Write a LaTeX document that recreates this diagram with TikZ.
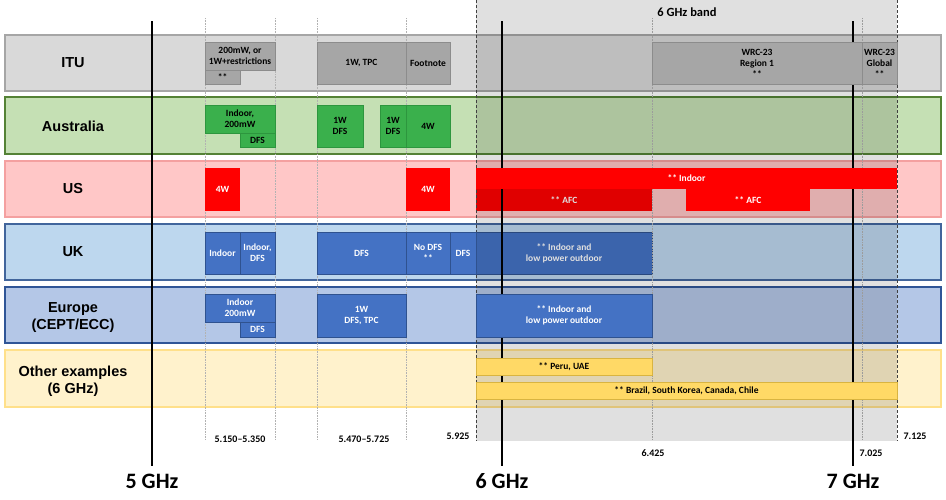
\documentclass[tikz,border=0pt]{standalone}
\usepackage{fontspec}
\setmainfont{Carlito}
\newfontfamily\arialfont{Liberation Sans}
\usetikzlibrary{fit}
\definecolor{ituR}{HTML}{D9D9D9}
\definecolor{ituRD}{HTML}{A6A6A6}
\definecolor{ituB}{HTML}{A6A6A6}
\definecolor{ituD}{HTML}{8C8C8C}
\definecolor{ausR}{HTML}{C5E0B4}
\definecolor{ausRD}{HTML}{548235}
\definecolor{grnB}{RGB}{58,176,76}
\definecolor{grnD}{RGB}{45,150,62}
\definecolor{usR}{HTML}{FFC7C7}
\definecolor{usRD}{HTML}{F4A0A0}
\definecolor{redB}{HTML}{FF0000}
\definecolor{ukR}{HTML}{BDD7EE}
\definecolor{ukRD}{HTML}{41659C}
\definecolor{euR}{HTML}{B4C7E7}
\definecolor{euRD}{HTML}{2F5597}
\definecolor{bluB}{HTML}{4472C4}
\definecolor{bluD}{HTML}{2F528F}
\definecolor{oeR}{HTML}{FFF2CC}
\definecolor{oeRD}{HTML}{FFE08A}
\definecolor{ylwB}{HTML}{FFD966}
\definecolor{ylwD}{HTML}{D9B440}
% style, name, x1, y1, x2, y2, text
\newcommand\blkbox[7]{%
  \pgfmathsetmacro\myBW{#5-#3}%
  \pgfmathsetmacro\myBH{#6-#4}%
  \node[#1, minimum width=\myBW pt, minimum height=\myBH pt, anchor=north west] (#2) at (#3,#4) {#7};}
\begin{document}
\begin{tikzpicture}[x=1pt,y=-1pt,
  rowbox/.style={inner sep=0pt, outer sep=0pt, line width=1.2pt},
  rowlab/.style={font=\arialfont\bfseries\fontsize{14.5}{17}\selectfont, align=center, text=black},
  blk/.style={inner sep=0pt, outer sep=0pt, align=center, font=\bfseries\fontsize{9.5}{11}\selectfont, line width=0.6pt},
  itub/.style={blk, fill=ituB, draw=ituD, text=black},
  grnb/.style={blk, fill=grnB, draw=grnD, text=black},
  redb/.style={blk, fill=redB, text=white},
  blub/.style={blk, fill=bluB, draw=bluD, text=white},
  ylwb/.style={blk, fill=ylwB, draw=ylwD, text=black},
  dotline/.style={draw=black!30, densely dotted, line width=0.6pt},
  bandedge/.style={draw=black!75, densely dashed, line width=0.6pt},
  ghzline/.style={draw=black, line width=1.3pt},
  ghz/.style={font=\bfseries\fontsize{22}{24}\selectfont, inner sep=0pt},
  freq/.style={font=\bfseries\fontsize{10}{12}\selectfont, inner sep=0pt},
]
\useasboundingbox (0,0) rectangle (946,499);
\fill[white] (0,0) rectangle (946,499);

% rows
\node[rowbox, fill=ituR, draw=ituRD, fit={(5,35)(941,91)}] (rITU) {};
\node[rowbox, fill=ausR, draw=ausRD, fit={(5,97)(941,154)}] (rAUS) {};
\node[rowbox, fill=usR, draw=usRD, fit={(5,161)(941,217)}] (rUS) {};
\node[rowbox, fill=ukR, draw=ukRD, fit={(5,224)(941,280)}] (rUK) {};
\node[rowbox, fill=euR, draw=euRD, fit={(5,287)(941,343)}] (rEU) {};
\node[rowbox, fill=oeR, draw=oeRD, fit={(5,350)(941,407)}] (rOE) {};

% blocks under the band shading
\blkbox{redb}{usAFC1}{476}{189}{652}{211}{** AFC}
\blkbox{blub}{ukLP}{476}{232}{652}{274}{** Indoor and\\low power outdoor}

% dotted guides
\foreach \xx in {205,275,317,406,652,862} {
  \draw[dotline] (\xx,18) -- (\xx,440);
}

% 6 GHz band
\node[inner sep=0pt, outer sep=0pt, fill=black, fill opacity=0.12, fit={(476,0)(897,441)}] (band) {};
\draw[bandedge] (band.north west) -- (band.south west);
\draw[bandedge] (band.north east) -- (band.south east);
\node[font=\bfseries\fontsize{12.5}{14}\selectfont, inner sep=0pt] (bandlab) at (687,12) {6 GHz band};

% GHz lines and labels
\node[ghz] (g5) at (152,481) {5 GHz};
\node[ghz] (g6) at (502,481) {6 GHz};
\node[ghz] (g7) at (853,481) {7 GHz};
\coordinate (t5) at (152,21);
\coordinate (t6) at (502,21);
\coordinate (t7) at (853,21);
\coordinate (b5) at (152,466);
\coordinate (b6) at (502,466);
\coordinate (b7) at (853,466);
\draw[ghzline] (t5) -- (b5);
\draw[ghzline] (t6) -- (b6);
\draw[ghzline] (t7) -- (b7);

% row labels
\node[rowlab] (lITU) at (73,63) {ITU};
\node[rowlab] (lAUS) at (73,126) {Australia};
\node[rowlab] (lUS) at (73,189) {US};
\node[rowlab] (lUK) at (73,252) {UK};
\node[rowlab] (lEU) at (73,318) {Europe\\(CEPT/ECC)};
\node[rowlab] (lOE) at (73,381) {Other examples\\(6 GHz)};

% ITU blocks
\blkbox{itub}{itu1}{205}{42}{275}{70}{200mW, or\\1W+restrictions}
\blkbox{itub}{itu1b}{205}{70}{240}{84}{**}
\blkbox{itub}{itu2}{317}{42}{406}{84}{1W, TPC}
\blkbox{itub}{itu3}{406}{42}{450}{84}{Footnote}
\blkbox{itub}{itu4}{652}{42}{862}{84}{WRC-23\\Region 1\\{**}}
\blkbox{itub}{itu5}{862}{42}{897}{84}{WRC-23\\Global\\{**}}

% Australia blocks
\blkbox{grnb}{aus1}{205}{105}{275}{133}{Indoor,\\200mW}
\blkbox{grnb}{aus1b}{240}{133}{275}{147}{DFS}
\blkbox{grnb}{aus2}{317}{105}{363}{147}{1W\\DFS}
\blkbox{grnb}{aus3}{380}{105}{406}{147}{1W\\DFS}
\blkbox{grnb}{aus4}{406}{105}{450}{147}{4W}

% US blocks
\blkbox{redb}{us1}{205}{168}{240}{211}{4W}
\blkbox{redb}{us2}{406}{168}{450}{211}{4W}
\blkbox{redb}{us3}{476}{168}{897}{189}{** Indoor}
\blkbox{redb}{usAFC2}{686}{189}{810}{211}{** AFC}

% UK blocks
\blkbox{blub}{uk1}{205}{232}{240}{274}{Indoor}
\blkbox{blub}{uk2}{240}{232}{275}{274}{Indoor,\\DFS}
\blkbox{blub}{uk3}{317}{232}{406}{274}{DFS}
\blkbox{blub}{uk4}{406}{232}{450}{274}{No DFS\\{**}}
\blkbox{blub}{uk5}{450}{232}{476}{274}{DFS}

% Europe blocks
\blkbox{blub}{eu1}{205}{294}{275}{322}{Indoor\\200mW}
\blkbox{blub}{eu1b}{240}{322}{275}{337}{DFS}
\blkbox{blub}{eu2}{317}{294}{406}{337}{1W\\DFS, TPC}
\blkbox{blub}{eu3}{476}{294}{652}{337}{** Indoor and\\low power outdoor}

% Other examples
\blkbox{ylwb}{oe1}{476}{358}{652}{375}{** Peru, UAE}
\blkbox{ylwb}{oe2}{476}{382}{897}{399}{** Brazil, South Korea, Canada, Chile}

% frequency labels
\node[freq] (f1) at (240,439) {5.150--5.350};
\node[freq] (f2) at (364,439) {5.470--5.725};
\node[freq] (f3) at (458,436) {5.925};
\node[freq] (f4) at (653,453) {6.425};
\node[freq] (f5) at (871,453) {7.025};
\node[freq] (f6) at (915,436) {7.125};
\end{tikzpicture}
\end{document}
